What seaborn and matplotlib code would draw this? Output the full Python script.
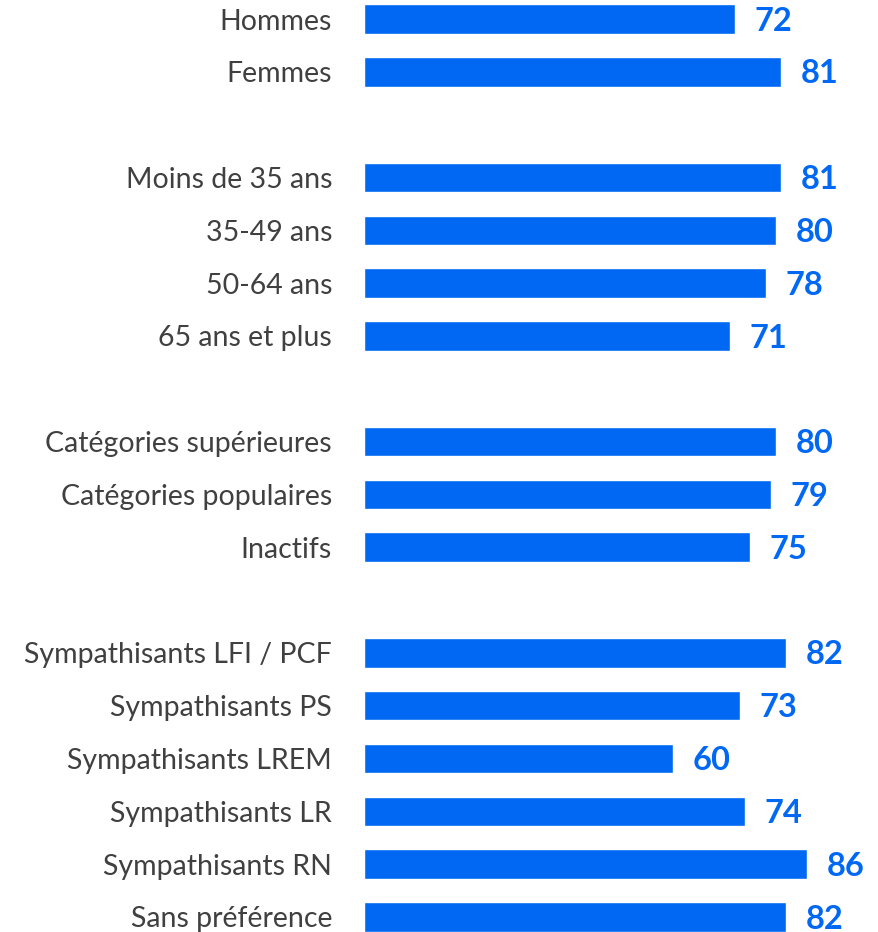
import matplotlib
matplotlib.use("Agg")
import matplotlib.pyplot as plt
import seaborn as sns
import pandas as pd

groups = [
    ["Hommes", "Femmes"],
    ["Moins de 35 ans", "35-49 ans", "50-64 ans", "65 ans et plus"],
    ["Catégories supérieures", "Catégories populaires", "Inactifs"],
    ["Sympathisants LFI / PCF", "Sympathisants PS", "Sympathisants LREM",
     "Sympathisants LR", "Sympathisants RN", "Sans préférence"],
]
group_values = [
    [72, 81],
    [81, 80, 78, 71],
    [80, 79, 75],
    [82, 73, 60, 74, 86, 82],
]

BLUE = "#0068F2"

labels, values, pos = [], [], []
slot = 0
for g, v in zip(groups, group_values):
    for name, val in zip(g, v):
        labels.append(name)
        values.append(val)
        pos.append(slot)
        slot += 1
    slot += 1  # gap between groups

df = pd.DataFrame({"label": labels, "value": values, "pos": pos})

sns.set_theme(style="white")
plt.rcParams["font.family"] = ["Lato", "DejaVu Sans"]

fig = plt.figure(figsize=(8.79, 9.32), dpi=100)
ax = fig.add_axes([364 / 879, 0, 1 - 364 / 879, 1])

sns.barplot(data=df, x="value", y="pos", orient="h", native_scale=True,
            color=BLUE, saturation=1, width=0.56, ax=ax, errorbar=None)

ax.set_xlim(0, 100)
ax.set_ylim(17 + 15 / 52.8, -19 / 52.8)
ax.set_yticks(df["pos"])
ax.set_yticklabels(df["label"], fontsize=20.5, color="#404040")
ax.tick_params(axis="y", length=0, pad=23)
ax.set_xticks([])
ax.set_xlabel("")
ax.set_ylabel("")
for s in ax.spines.values():
    s.set_visible(False)

for c in ax.containers:
    anns = ax.bar_label(c, fmt="%d", padding=14, fontsize=23.5, fontweight="bold", color=BLUE)
    for a in anns:
        a.xyann = (14, -1.5)

fig.savefig("out.png", dpi=100)
